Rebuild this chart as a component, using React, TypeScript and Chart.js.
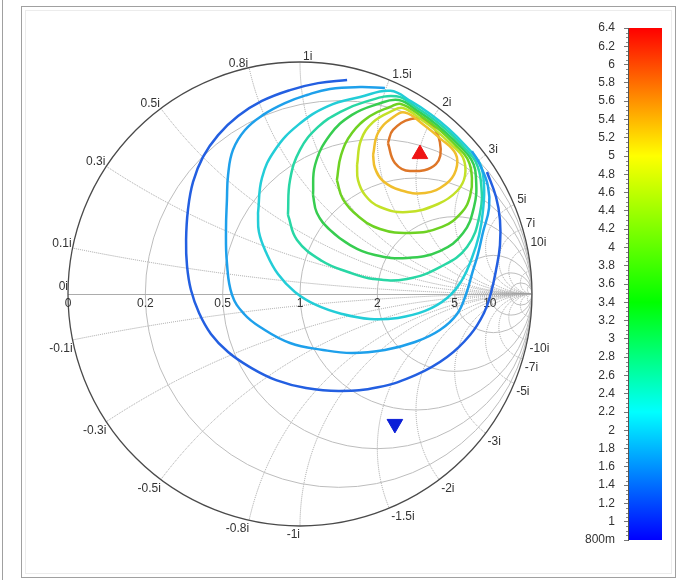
import React, { useEffect, useRef } from 'react';
import { Chart, registerables } from 'chart.js';

Chart.register(...registerables);

type Pt = [number, number];

// ---- Contour data (reflection coefficient Γ = [Re, Im]) ----
const contourLevels = [1.2, 1.8, 2.4, 3.0, 3.6, 4.2, 4.8, 5.4, 6.0];

const contour12: Pt[] = [
  [0.203, 0.922], [0.078, 0.909], [-0.043, 0.879], [-0.164, 0.832], [-0.267, 0.767], [-0.353, 0.685],
  [-0.418, 0.591], [-0.461, 0.483], [-0.483, 0.362], [-0.491, 0.233], [-0.487, 0.121], [-0.47, 0.017],
  [-0.435, -0.082], [-0.384, -0.172], [-0.31, -0.25], [-0.216, -0.315], [-0.103, -0.371], [0.026, -0.405],
  [0.172, -0.418], [0.336, -0.402], [0.5, -0.349], [0.634, -0.272], [0.733, -0.177], [0.793, -0.082],
  [0.823, 0.004], [0.845, 0.103], [0.862, 0.211], [0.862, 0.319], [0.845, 0.418], [0.806, 0.526],
];
const contour18: Pt[] = [
  [0.366, 0.888], [0.259, 0.892], [0.129, 0.884], [0.03, 0.858], [-0.065, 0.823], [-0.159, 0.772],
  [-0.237, 0.707], [-0.289, 0.621], [-0.31, 0.513], [-0.315, 0.405], [-0.319, 0.276], [-0.315, 0.134],
  [-0.293, -0.004], [-0.241, -0.086], [-0.172, -0.142], [-0.043, -0.211], [0.099, -0.241], [0.224, -0.254],
  [0.366, -0.241], [0.496, -0.207], [0.603, -0.155], [0.677, -0.086], [0.716, 0.0], [0.741, 0.086],
  [0.767, 0.172], [0.789, 0.267], [0.815, 0.371], [0.81, 0.466], [0.776, 0.556], [0.741, 0.616],
];
const contour24: Pt[] = [
  [-0.181, 0.349], [-0.164, 0.5], [-0.108, 0.621], [-0.009, 0.728], [0.121, 0.81], [0.259, 0.849],
  [0.39, 0.876], [0.479, 0.83], [0.563, 0.775], [0.641, 0.712], [0.712, 0.641], [0.775, 0.563],
  [0.793, 0.47], [0.789, 0.362], [0.772, 0.254], [0.741, 0.155], [0.698, 0.06], [0.634, -0.017],
  [0.539, -0.073], [0.422, -0.103], [0.302, -0.108], [0.181, -0.086], [0.069, -0.047], [-0.022, 0.009],
  [-0.095, 0.086], [-0.147, 0.181], [-0.177, 0.267], [-0.181, 0.349],
];
const contour30: Pt[] = [
  [-0.052, 0.341], [-0.043, 0.491], [0.0, 0.621], [0.078, 0.72], [0.172, 0.784], [0.28, 0.828],
  [0.415, 0.852], [0.502, 0.804], [0.584, 0.747], [0.659, 0.682], [0.716, 0.622], [0.757, 0.571],
  [0.78, 0.483], [0.776, 0.349], [0.72, 0.203], [0.603, 0.116], [0.461, 0.065], [0.315, 0.065],
  [0.207, 0.095], [0.095, 0.142], [-0.013, 0.233], [-0.052, 0.341],
];
const contour36: Pt[] = [
  [0.056, 0.427], [0.065, 0.556], [0.129, 0.685], [0.224, 0.772], [0.336, 0.819],
  [0.426, 0.836], [0.511, 0.787], [0.59, 0.729], [0.663, 0.663], [0.739, 0.578],
  [0.759, 0.491], [0.75, 0.375], [0.703, 0.263], [0.603, 0.185], [0.461, 0.155], [0.323, 0.168],
  [0.216, 0.211], [0.129, 0.276], [0.073, 0.349], [0.056, 0.427],
];
const contour42: Pt[] = [
  [0.159, 0.491], [0.177, 0.599], [0.224, 0.694], [0.302, 0.767], [0.388, 0.806],
  [0.435, 0.819], [0.519, 0.769], [0.597, 0.711], [0.667, 0.645], [0.721, 0.584],
  [0.741, 0.5], [0.733, 0.422], [0.698, 0.353], [0.612, 0.289], [0.474, 0.263], [0.345, 0.28],
  [0.25, 0.336], [0.185, 0.409], [0.159, 0.491],
];
const contour48: Pt[] = [
  [0.246, 0.556], [0.263, 0.664], [0.315, 0.741], [0.397, 0.789],
  [0.444, 0.802], [0.526, 0.75], [0.589, 0.702], [0.648, 0.648], [0.702, 0.589],
  [0.711, 0.509], [0.677, 0.444], [0.595, 0.388], [0.461, 0.353], [0.345, 0.375], [0.28, 0.427],
  [0.25, 0.491], [0.246, 0.556],
];
const contour54: Pt[] = [
  [0.315, 0.599], [0.336, 0.694], [0.397, 0.759],
  [0.452, 0.782], [0.531, 0.731], [0.604, 0.671], [0.671, 0.604],
  [0.672, 0.534], [0.629, 0.474], [0.539, 0.435], [0.431, 0.448], [0.358, 0.487], [0.323, 0.543],
  [0.315, 0.599],
];
const contour60: Pt[] = [
  [0.379, 0.651], [0.401, 0.707], [0.478, 0.754], [0.552, 0.741], [0.603, 0.655],
  [0.586, 0.56], [0.474, 0.53], [0.409, 0.565], [0.379, 0.651],
];

const contourPaths: Pt[][] = [
  contour12, contour18, contour24, contour30, contour36, contour42, contour48, contour54, contour60,
];

const maxMarker: Pt = [0.517, 0.603];
const minMarker: Pt = [0.409, -0.56];

// ---- Smith chart grid ----
const resistanceValues = [0.2, 0.5, 1, 2, 5, 10];
const resistanceLabels = ['0.2', '0.5', '1', '2', '5', '10'];
const reactanceValues = [0.1, 0.3, 0.5, 0.8, 1, 1.5, 2, 3, 5, 7, 10];
const reactanceLabels = ['0.1', '0.3', '0.5', '0.8', '1', '1.5', '2', '3', '5', '7', '10'];
const extraReactanceValues = [20, 50];
const extraResistanceValues = [20];

// ---- Colorbar ----
const colorbarTicks = [0.8, 1, 1.2, 1.4, 1.6, 1.8, 2, 2.2, 2.4, 2.6, 2.8, 3, 3.2, 3.4, 3.6, 3.8, 4, 4.2, 4.4, 4.6, 4.8, 5, 5.2, 5.4, 5.6, 5.8, 6, 6.2, 6.4];
const colorbarTickLabels = ['800m', '1', '1.2', '1.4', '1.6', '1.8', '2', '2.2', '2.4', '2.6', '2.8', '3', '3.2', '3.4', '3.6', '3.8', '4', '4.2', '4.4', '4.6', '4.8', '5', '5.2', '5.4', '5.6', '5.8', '6', '6.2', '6.4'];
const colormapStops = [0.8, 2.2, 3.4, 5.0, 6.4];
const colormapColors = ['rgb(0,0,255)', 'rgb(0,255,255)', 'rgb(0,255,0)', 'rgb(255,255,0)', 'rgb(255,0,0)'];

// line colours of contours (as rendered)
const contourColors = [
  'rgb(35,95,225)', 'rgb(30,160,235)', 'rgb(35,205,215)', 'rgb(40,215,165)', 'rgb(55,205,80)',
  'rgb(110,210,35)', 'rgb(195,225,40)', 'rgb(240,190,45)', 'rgb(222,118,40)',
];

const FONT = '12px "Liberation Sans", Arial, sans-serif';

const smithPlugin = {
  id: 'smithGrid',
  beforeDraw(chart: any) {
    const ctx = chart.ctx;
    ctx.save();
    ctx.fillStyle = '#ffffff';
    ctx.fillRect(0, 0, chart.width, chart.height);
    ctx.strokeStyle = '#a0a0a0';
    ctx.lineWidth = 1;
    ctx.beginPath();
    ctx.moveTo(2.5, 0);
    ctx.lineTo(2.5, chart.height);
    ctx.stroke();
    ctx.strokeRect(21.5, 6.5, 654, 571);
    ctx.strokeStyle = '#ececec';
    ctx.strokeRect(25.5, 10.5, 646, 563);
    ctx.restore();
  },
  beforeDatasetsDraw(chart: any) {
    const { ctx } = chart;
    const xs = chart.scales.x;
    const ys = chart.scales.y;
    const X = (v: number) => xs.getPixelForValue(v);
    const Y = (v: number) => ys.getPixelForValue(v);
    const cx = X(0);
    const cy = Y(0);
    const R = X(1) - X(0);

    ctx.save();
    ctx.beginPath();
    ctx.arc(cx, cy, R, 0, Math.PI * 2);
    ctx.clip();

    // reactance arcs (dotted)
    ctx.lineWidth = 1;
    ctx.strokeStyle = '#a2a2a2';
    ctx.setLineDash([1, 1]);
    for (const v of [...reactanceValues, ...extraReactanceValues]) {
      for (const s of [1, -1]) {
        ctx.beginPath();
        ctx.arc(X(1), Y(s / v), R / v, 0, Math.PI * 2);
        ctx.stroke();
      }
    }
    // resistance circles (solid)
    ctx.setLineDash([]);
    ctx.strokeStyle = '#bdbdbd';
    for (const r of [...resistanceValues, ...extraResistanceValues]) {
      ctx.beginPath();
      ctx.arc(X(r / (1 + r)), cy, R / (1 + r), 0, Math.PI * 2);
      ctx.stroke();
    }
    // real axis
    ctx.strokeStyle = '#acacac';
    ctx.beginPath();
    ctx.moveTo(X(-1), cy + 0.5);
    ctx.lineTo(X(1), cy + 0.5);
    ctx.stroke();
    ctx.restore();

    // outer boundary
    ctx.save();
    ctx.strokeStyle = '#4a4a4a';
    ctx.lineWidth = 1.3;
    ctx.beginPath();
    ctx.arc(cx, cy, R, 0, Math.PI * 2);
    ctx.stroke();

    // labels
    ctx.font = FONT;
    ctx.fillStyle = '#333333';
    ctx.textBaseline = 'alphabetic';
    ctx.textAlign = 'center';
    ctx.fillText('0', X(-1), cy + 13);
    resistanceValues.forEach((r, i) => {
      ctx.fillText(resistanceLabels[i], X((r - 1) / (r + 1)), cy + 13);
    });
    ctx.textAlign = 'right';
    ctx.fillText('0i', X(-1), cy - 4);

    reactanceValues.forEach((v, i) => {
      const d = v * v + 1;
      const gr = (v * v - 1) / d;
      const gi = (2 * v) / d;
      const px = X(gr);
      const pu = Y(gi);
      const pl = Y(-gi);
      if (gr >= 0) {
        ctx.textAlign = 'left';
        ctx.fillText(reactanceLabels[i] + 'i', px + 3, pu - 2);
      } else {
        ctx.textAlign = 'right';
        ctx.fillText(reactanceLabels[i] + 'i', px - 1, pu - 1);
      }
      if (gr > 0) {
        ctx.textAlign = 'left';
        ctx.fillText('-' + reactanceLabels[i] + 'i', px + 2, pl + 12);
      } else {
        ctx.textAlign = 'right';
        ctx.fillText('-' + reactanceLabels[i] + 'i', px, pl + 12);
      }
    });
    ctx.restore();
  },
};

const colorbarPlugin = {
  id: 'colorbar',
  beforeDraw(chart: any) {
    const { ctx, chartArea: a } = chart;
    const ys = chart.scales.y;
    const lo = colormapStops[0];
    const hi = colormapStops[colormapStops.length - 1];
    const g = ctx.createLinearGradient(0, ys.getPixelForValue(lo), 0, ys.getPixelForValue(hi));
    colormapStops.forEach((v, i) => g.addColorStop((v - lo) / (hi - lo), colormapColors[i]));
    ctx.save();
    ctx.fillStyle = g;
    ctx.fillRect(a.left, a.top, a.right - a.left, a.bottom - a.top);
    ctx.restore();
  },
  afterDraw(chart: any) {
    const { ctx, chartArea: a } = chart;
    const ys = chart.scales.y;
    ctx.save();
    ctx.strokeStyle = '#8a8a8a';
    ctx.lineWidth = 1;
    for (let i = 0; i < colorbarTicks.length - 1; i++) {
      for (let k = 1; k < 4; k++) {
        const v = colorbarTicks[i] + ((colorbarTicks[i + 1] - colorbarTicks[i]) * k) / 4;
        const yy = Math.round(ys.getPixelForValue(v)) + 0.5;
        ctx.beginPath();
        ctx.moveTo(a.left - 2, yy);
        ctx.lineTo(a.left, yy);
        ctx.stroke();
      }
    }
    ctx.restore();
  },
};

export default function App() {
  const mainRef = useRef<HTMLCanvasElement | null>(null);
  const cbRef = useRef<HTMLCanvasElement | null>(null);

  useEffect(() => {
    if (!mainRef.current || !cbRef.current) return;

    const markerSets: any[] = [
      {
        data: [{ x: maxMarker[0], y: maxMarker[1] }],
        pointStyle: 'triangle',
        pointRadius: 9,
        pointHoverRadius: 9,
        backgroundColor: 'rgb(238,20,20)',
        borderColor: 'rgb(238,20,20)',
        borderWidth: 1,
        showLine: false,
      },
      {
        data: [{ x: minMarker[0], y: minMarker[1] }],
        pointStyle: 'triangle',
        rotation: 180,
        pointRadius: 9,
        pointHoverRadius: 9,
        backgroundColor: 'rgb(10,30,215)',
        borderColor: 'rgb(10,30,215)',
        borderWidth: 1,
        showLine: false,
      },
    ];

    const contourSets = contourPaths.map((pts, i) => ({
      label: String(contourLevels[i]),
      data: pts.map(([x, y]) => ({ x, y })),
      showLine: true,
      borderColor: contourColors[i],
      backgroundColor: contourColors[i],
      borderWidth: 2.5,
      pointRadius: 0,
      pointHoverRadius: 0,
      tension: 0.42,
      fill: false,
    }));

    const main = new Chart(mainRef.current, {
      type: 'scatter',
      data: { datasets: [...markerSets, ...contourSets] },
      options: {
        animation: false,
        responsive: false,
        events: [],
        layout: { padding: { left: 68, top: 62, right: 149, bottom: 54 } },
        plugins: { legend: { display: false }, tooltip: { enabled: false } },
        scales: {
          x: { type: 'linear', min: -1, max: 1, display: false },
          y: { type: 'linear', min: -1, max: 1, display: false },
        },
      },
      plugins: [smithPlugin],
    } as any);

    const cb = new Chart(cbRef.current, {
      type: 'scatter',
      data: { datasets: [] },
      options: {
        animation: false,
        responsive: false,
        events: [],
        layout: { padding: { left: 0, right: 19, top: 28, bottom: 40 } },
        plugins: { legend: { display: false }, tooltip: { enabled: false } },
        scales: {
          x: { type: 'linear', min: 0, max: 1, display: false },
          y: {
            type: 'linear',
            position: 'left',
            min: colorbarTicks[0],
            max: colorbarTicks[colorbarTicks.length - 1],
            afterBuildTicks: (s: any) => {
              s.ticks = colorbarTicks.map((v) => ({ value: v }));
            },
            afterFit: (s: any) => {
              s.width = 68;
            },
            ticks: {
              autoSkip: false,
              padding: 9,
              color: '#333333',
              font: { family: '"Liberation Sans", Arial, sans-serif', size: 12 },
              callback: (_v: any, idx: number) => colorbarTickLabels[idx],
            },
            grid: { drawOnChartArea: false, drawTicks: true, tickLength: 4, color: '#777777' },
            border: { display: true, color: '#555555', width: 1 },
          },
        },
      },
      plugins: [colorbarPlugin],
    } as any);

    return () => {
      main.destroy();
      cb.destroy();
    };
  }, []);

  return (
    <div style={{ position: 'absolute', left: 0, top: 0, width: 681, height: 580, background: '#fff' }}>
      <canvas ref={mainRef} width={681} height={580} style={{ position: 'absolute', left: 0, top: 0 }} />
      <canvas ref={cbRef} width={121} height={580} style={{ position: 'absolute', left: 560, top: 0 }} />
    </div>
  );
}
